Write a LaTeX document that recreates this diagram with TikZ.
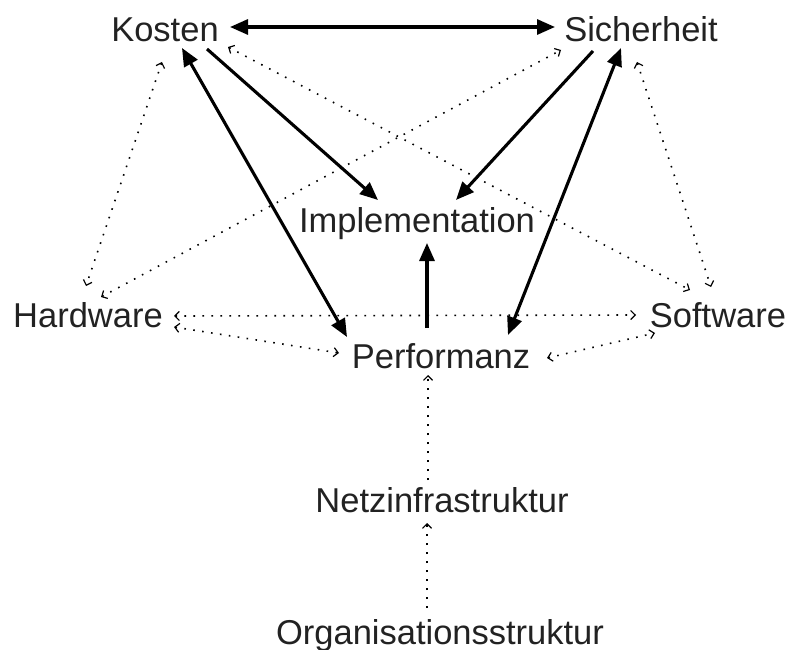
\documentclass[tikz,border=0pt]{standalone}
\usepackage{fontspec}
\setmainfont{Liberation Sans}
\usetikzlibrary{arrows.meta}
\definecolor{txt}{RGB}{34,34,34}
\begin{document}
\begin{tikzpicture}[x=1pt,y=-1pt,
  lbl/.style={anchor=base,inner sep=0pt,text=txt,font=\fontsize{34.5}{40}\selectfont},
  strong/.style={line width=3.1pt,-{Triangle[length=18pt,width=15pt]}},
  strongboth/.style={line width=3.1pt,{Triangle[length=18pt,width=15pt]}-{Triangle[length=18pt,width=15pt]}},
  weak/.style={line width=1.6pt,dash pattern=on 1.6pt off 7.4pt,-{Straight Barb[length=4.5pt,width=9pt,line width=1.2pt]}},
  weakboth/.style={line width=1.6pt,dash pattern=on 1.6pt off 7.4pt,{Straight Barb[length=4.5pt,width=9pt,line width=1.2pt]}-{Straight Barb[length=4.5pt,width=9pt,line width=1.2pt]}}]
\useasboundingbox (0,0) rectangle (788,650);

% factors
\node[lbl] (K) at (165,42) {Kosten};
\node[lbl] (S) at (641,42) {Sicherheit};
\node[lbl] (I) at (417,233) {Implementation};
\node[lbl] (H) at (88,327) {Hardware};
\node[lbl] (W) at (718,327) {Software};
\node[lbl] (P) at (441,368) {Performanz};
\node[lbl] (N) at (442,512) {Netzinfrastruktur};
\node[lbl] (O) at (440,644) {Organisationsstruktur};

% strong dependencies
\draw[strongboth] ([shift={(65,-15)}]K.base) -- ([shift={(-86,-15)}]S.base);
\draw[strong] ([shift={(42,7)}]K.base) -- ([shift={(-39,-33)}]I.base);
\draw[strongboth] ([shift={(17,6)}]K.base) -- ([shift={(-94,-31)}]P.base);
\draw[strong] ([shift={(-48,9)}]S.base) -- ([shift={(39,-33)}]I.base);
\draw[strongboth] ([shift={(-20,6)}]S.base) -- ([shift={(67,-33)}]P.base);
\draw[strong] ([shift={(-14,-40)}]P.base) -- ([shift={(10,10)}]I.base);

% weak dependencies
\draw[weakboth] ([shift={(63,5)}]K.base) -- ([shift={(-28,-37)}]W.base);
\draw[weakboth] ([shift={(13,-30)}]H.base) -- ([shift={(-80,8)}]S.base);
\draw[weakboth] ([shift={(-3,20)}]K.base) -- ([shift={(-2,-41)}]H.base);
\draw[weakboth] ([shift={(-4,20)}]S.base) -- ([shift={(-7,-40)}]W.base);
\draw[weakboth] ([shift={(86,-11)}]H.base) -- ([shift={(-82,-12)}]W.base);
\draw[weakboth] ([shift={(86,0)}]H.base) -- ([shift={(-102,-15)}]P.base);
\draw[weakboth] ([shift={(106,-10)}]P.base) -- ([shift={(-63,6)}]W.base);
\draw[weak] ([shift={(-14,-32)}]N.base) -- ([shift={(-13,7)}]P.base);
\draw[weak] ([shift={(-13,-36)}]O.base) -- ([shift={(-15,11)}]N.base);
\end{tikzpicture}
\end{document}
